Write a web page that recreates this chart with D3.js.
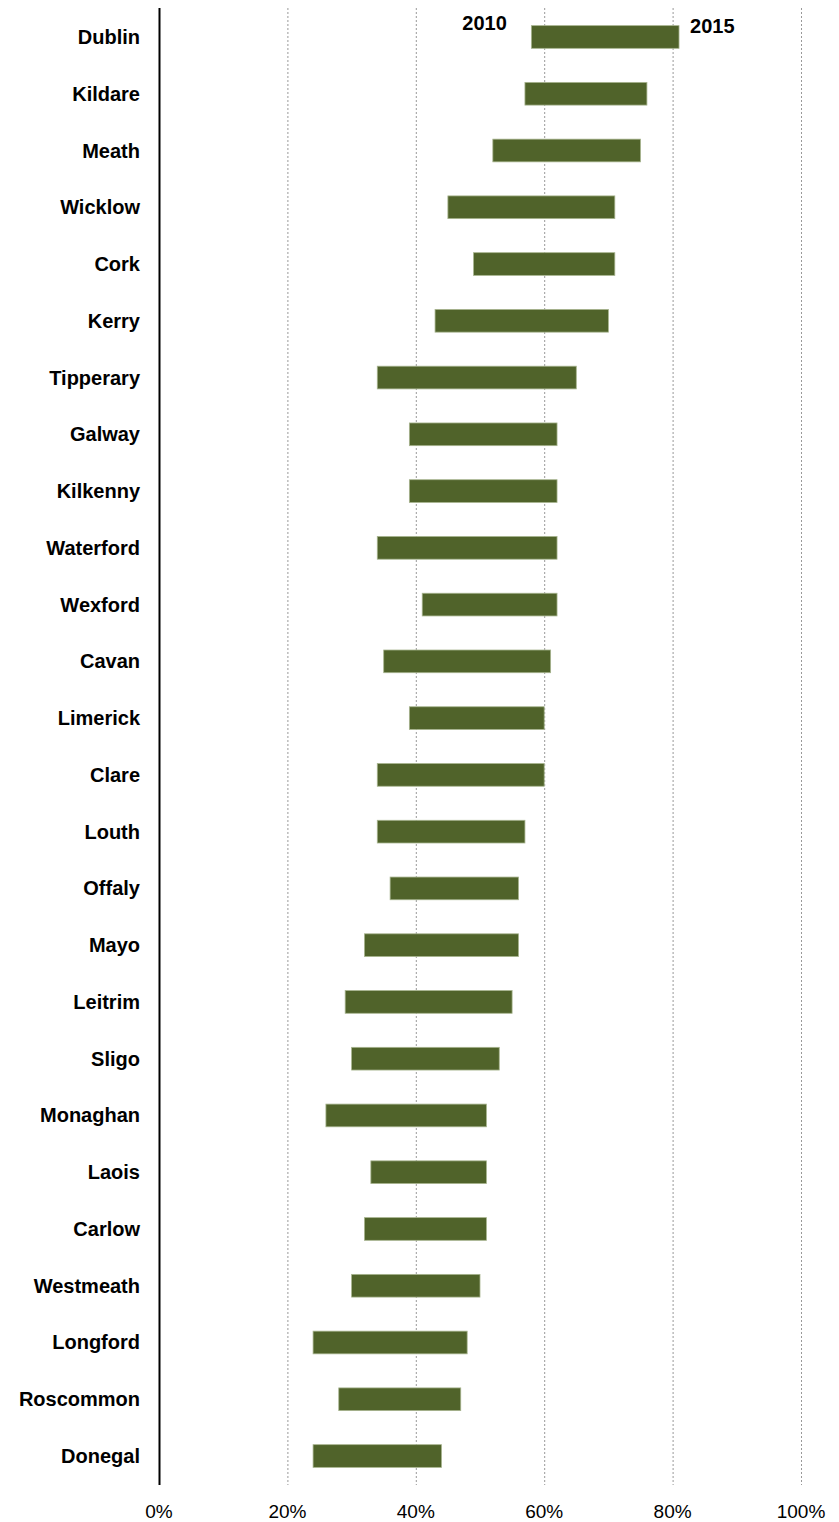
<!DOCTYPE html>
<html><head><meta charset="utf-8">
<script src="https://cdn.jsdelivr.net/npm/d3@7"></script>
<style>body{margin:0;background:#fff}</style>
</head><body><svg id="c" width="839" height="1522"></svg>
<script>
const counties = ["Dublin","Kildare","Meath","Wicklow","Cork","Kerry","Tipperary","Galway","Kilkenny","Waterford","Wexford","Cavan","Limerick","Clare","Louth","Offaly","Mayo","Leitrim","Sligo","Monaghan","Laois","Carlow","Westmeath","Longford","Roscommon","Donegal"];
const v2010 = [58,57,52,45,49,43,34,39,39,34,41,35,39,34,34,36,32,29,30,26,33,32,30,24,28,24];
const v2015 = [81,76,75,71,71,70,65,62,62,62,62,61,60,60,57,56,56,55,53,51,51,51,50,48,47,44];
const ticks = [0,20,40,60,80,100];

const font = "Liberation Sans, Arial, sans-serif";
const svg = d3.select("#c");
const x = d3.scaleLinear().domain([0,100]).range([159,801]);
const y = d3.scaleBand().domain(counties).range([8.6,1484.4]).paddingInner(0.6).paddingOuter(0.3);
// grid
svg.append("g").selectAll("line").data(ticks.slice(1)).join("line")
  .attr("x1",d=>x(d)+0.5).attr("x2",d=>x(d)+0.5).attr("y1",8).attr("y2",1485)
  .attr("stroke","#999").attr("stroke-width",1).attr("stroke-dasharray","2,2");
// bars
svg.append("g").selectAll("rect").data(counties).join("rect")
  .attr("x",(d,i)=>x(v2010[i])).attr("width",(d,i)=>x(v2015[i])-x(v2010[i]))
  .attr("y",d=>y(d)).attr("height",y.bandwidth())
  .attr("fill","#50632a").attr("stroke","#a7b48e").attr("stroke-width",0.8);
// axis line
svg.append("line").attr("x1",159.5).attr("x2",159.5).attr("y1",8).attr("y2",1485).attr("stroke","#000").attr("stroke-width",2);
// category labels
svg.append("g").selectAll("text").data(counties).join("text")
  .attr("x",140).attr("y",d=>y(d)+y.bandwidth()/2).attr("dy","0.35em")
  .attr("text-anchor","end").attr("font-family",font)
  .attr("font-weight","bold").attr("font-size",20).text(d=>d);
// tick labels
svg.append("g").selectAll("text").data(ticks).join("text")
  .attr("x",d=>x(d)).attr("y",1518).attr("text-anchor","middle")
  .attr("font-family",font).attr("font-size",19)
  .text(d=>d+"%");
// year labels
const top0 = y(counties[0]);
svg.append("text").attr("x",x(v2010[0])-24.5).attr("y",top0+4.5).attr("text-anchor","end")
  .attr("font-family",font).attr("font-weight","bold").attr("font-size",20).text("2010");
svg.append("text").attr("x",x(v2015[0])+11).attr("y",top0+7.5)
  .attr("font-family",font).attr("font-weight","bold").attr("font-size",20).text("2015");
</script></body></html>
